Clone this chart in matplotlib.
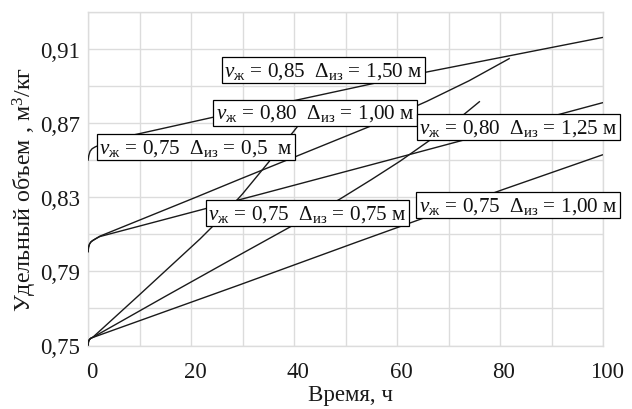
import matplotlib
matplotlib.use("Agg")
import matplotlib.pyplot as plt
import matplotlib.transforms as mtransforms
from matplotlib.ticker import MultipleLocator, FuncFormatter

plt.rcParams['font.family'] = ['Liberation Serif', 'DejaVu Serif']
plt.rcParams['mathtext.fontset'] = 'custom'
plt.rcParams['mathtext.rm'] = 'Liberation Serif'
plt.rcParams['mathtext.it'] = 'Liberation Serif:italic'
plt.rcParams['mathtext.bf'] = 'Liberation Serif:bold'

# ---- data (time, h ; specific volume, m3/kg) ----
x_085_150 = [0, 0.15, 0.4, 0.8, 1.4, 3.0, 9.1, 24.3, 39.9, 65.4, 100]
y_085_150 = [0.8497, 0.8525, 0.8548, 0.8562, 0.8572, 0.8590, 0.8638, 0.8732, 0.8821, 0.8974, 0.9163]

x_080_100 = [0, 0.1, 0.3, 0.6, 1.0, 1.6, 2.3, 20.5, 29.5, 39.9, 55.4, 65.8, 74.0, 81.9]
y_080_100 = [0.8003, 0.8030, 0.8048, 0.8060, 0.8068, 0.8078, 0.8090, 0.8295, 0.8398, 0.8515, 0.8690, 0.8818, 0.8929, 0.9050]

x_080_125 = [0, 0.1, 0.3, 0.6, 1.0, 1.6, 2.3, 23.0, 33.4, 60.6, 73.5, 91.3, 100]
y_080_125 = [0.8003, 0.8030, 0.8048, 0.8060, 0.8068, 0.8078, 0.8088, 0.8240, 0.8316, 0.8517, 0.8613, 0.8746, 0.8811]

x_075_050 = [0, 0.1, 0.3, 0.6, 1.0, 10.0, 21.75, 25.0, 30.0, 35.0, 40.0, 42.5]
y_075_050 = [0.7500, 0.7522, 0.7533, 0.7540, 0.7546, 0.7774, 0.8075, 0.8165, 0.8318, 0.8487, 0.8658, 0.8747]

x_075_075 = [0, 0.1, 0.3, 0.6, 1.0, 15.0, 29.5, 39.9, 48.9, 55.0, 60.6, 67.0, 72.9, 76.1]
y_075_075 = [0.7500, 0.7522, 0.7533, 0.7540, 0.7545, 0.7765, 0.7990, 0.8150, 0.8290, 0.8395, 0.8495, 0.8620, 0.8745, 0.8818]

x_075_100 = [0, 0.1, 0.3, 0.6, 1.0, 29.5, 52.2, 80.6, 100]
y_075_100 = [0.7500, 0.7522, 0.7533, 0.7540, 0.7544, 0.7828, 0.8058, 0.8342, 0.8530]

series = [
    (x_085_150, y_085_150),
    (x_080_100, y_080_100),
    (x_080_125, y_080_125),
    (x_075_050, y_075_050),
    (x_075_075, y_075_075),
    (x_075_100, y_075_100),
]

labels = [
    r'$v_{\mathrm{ж}}\,=\,0{,}85\ \ \Delta_{\mathrm{из}}\,=\,1{,}50\ \mathrm{м}$',
    r'$v_{\mathrm{ж}}\,=\,0{,}80\ \ \Delta_{\mathrm{из}}\,=\,1{,}00\ \mathrm{м}$',
    r'$v_{\mathrm{ж}}\,=\,0{,}80\ \ \Delta_{\mathrm{из}}\,=\,1{,}25\ \mathrm{м}$',
    r'$v_{\mathrm{ж}}\,=\,0{,}75\ \ \Delta_{\mathrm{из}}\,=\,0{,}5\ \ \mathrm{м}$',
    r'$v_{\mathrm{ж}}\,=\,0{,}75\ \ \Delta_{\mathrm{из}}\,=\,0{,}75\ \mathrm{м}$',
    r'$v_{\mathrm{ж}}\,=\,0{,}75\ \ \Delta_{\mathrm{из}}\,=\,1{,}00\ \mathrm{м}$',
]
label_x = [45.7, 44.1, 83.55, 20.95, 42.6, 83.5]
label_y = [0.8985, 0.8757, 0.8678, 0.8570, 0.8214, 0.8256]

# ---- figure ----
fig = plt.figure(figsize=(6.32, 4.10), dpi=100)
ax = fig.add_axes([88/632, 1-346.5/410, 515/632, 333.5/410])

grid_c = '#dcdcdc'
for (xs, ys) in series:
    ax.plot(xs, ys, color='#1a1a1a', lw=1.0, zorder=3, solid_capstyle='butt')

for s, lx, ly in zip(labels, label_x, label_y):
    ax.text(lx, ly, s, ha='center', va='center', fontsize=15.2, zorder=5,
            clip_on=False, color='#111111',
            bbox=dict(boxstyle='square,pad=0.12', fc='white', ec='black', lw=0.9))

ax.set_xlim(0, 100)
ax.set_ylim(0.75, 0.93)
ax.xaxis.set_major_locator(MultipleLocator(20))
ax.xaxis.set_minor_locator(MultipleLocator(10))
ax.set_yticks([0.75, 0.79, 0.83, 0.87, 0.91])
ax.set_yticks([0.77, 0.81, 0.85, 0.89, 0.93], minor=True)
ax.xaxis.set_major_formatter(FuncFormatter(lambda v, p: f"{v:.0f}"))
ax.yaxis.set_major_formatter(FuncFormatter(lambda v, p: f"{v:.2f}".replace('.', ',')))
ax.grid(True, which='both', color=grid_c, lw=1.0, zorder=0)
ax.set_axisbelow(True)
ax.tick_params(which='both', length=0, labelsize=16.5, colors='#1a1a1a')
ax.tick_params(axis='x', pad=11)
ax.tick_params(axis='y', pad=6)
for sp in ax.spines.values():
    sp.set_color(grid_c)
    sp.set_linewidth(1.0)

shift = mtransforms.ScaledTranslation(4/100, 0, fig.dpi_scale_trans)
for lab in ax.get_xticklabels():
    lab.set_transform(lab.get_transform() + shift)

fig.text(351/632, 1-396/410, 'Время, ч', ha='center', va='center', fontsize=16.5, color='#1a1a1a')
fig.text(25/632, 1-190/410, 'Удельный объем , м$^3$/кг', ha='center', va='center',
         rotation=90, fontsize=17.3, color='#1a1a1a')

fig.savefig('out.png', dpi=100)
